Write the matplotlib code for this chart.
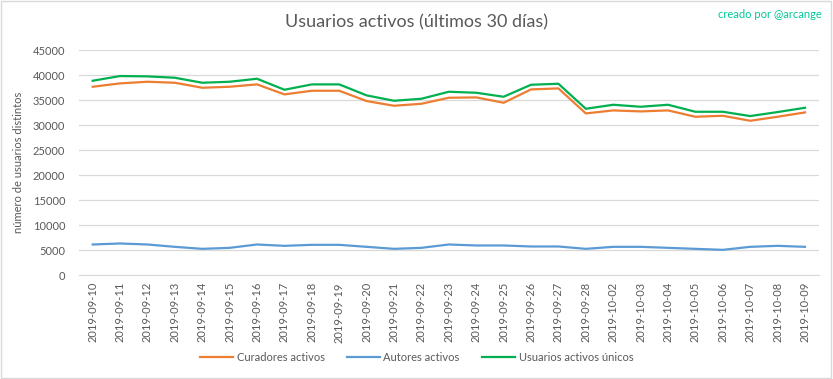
import matplotlib.pyplot as plt
from matplotlib.patches import Rectangle

plt.rcParams['font.family'] = ['Lato', 'DejaVu Sans']

fechas = ['2019-09-10', '2019-09-11', '2019-09-12', '2019-09-13', '2019-09-14',
          '2019-09-15', '2019-09-16', '2019-09-17', '2019-09-18', '2019-09-19',
          '2019-09-20', '2019-09-21', '2019-09-22', '2019-09-23', '2019-09-24',
          '2019-09-25', '2019-09-26', '2019-09-27', '2019-09-28', '2019-10-02',
          '2019-10-03', '2019-10-04', '2019-10-05', '2019-10-06', '2019-10-07',
          '2019-10-08', '2019-10-09']
curadores = [37660, 38330, 38660, 38460, 37460, 37660, 38130, 36130, 36860, 36860,
             34800, 33860, 34260, 35460, 35530, 34460, 37130, 37330, 32330, 32930,
             32730, 32930, 31660, 31860, 30860, 31660, 32530]
autores = [6130, 6330, 6130, 5660, 5260, 5460, 6130, 5860, 6060, 6060,
           5660, 5260, 5460, 6130, 5930, 5930, 5730, 5730, 5260, 5660,
           5660, 5460, 5260, 5060, 5660, 5860, 5660]
unicos = [38860, 39800, 39730, 39460, 38460, 38660, 39260, 37060, 38130, 38130,
          35930, 34860, 35260, 36660, 36460, 35660, 38060, 38260, 33260, 34060,
          33660, 34060, 32660, 32660, 31800, 32600, 33460]

fig = plt.figure(figsize=(8.33, 3.79), dpi=100)
fig.patches.append(Rectangle((0.001, 0.002), 0.997, 0.995, transform=fig.transFigure,
                             fill=False, edgecolor='#d9d9d9', linewidth=1))
ax = fig.add_axes([0.0948, 0.274, 0.888, 0.594])

x = range(len(fechas))
ax.plot(x, curadores, color='#ED7D31', linewidth=1.6, label='Curadores activos')
ax.plot(x, autores, color='#5B9BD5', linewidth=1.6, label='Autores activos')
ax.plot(x, unicos, color='#00B050', linewidth=1.6, label='Usuarios activos únicos')

ax.set_xlim(-0.5, len(fechas) - 0.5)
ax.set_ylim(0, 45000)
ax.set_yticks(range(0, 45001, 5000))
ax.yaxis.grid(True, color='#d9d9d9', linewidth=0.9)
ax.set_axisbelow(True)
for s in ['top', 'right', 'left']:
    ax.spines[s].set_visible(False)
ax.spines['bottom'].set_color('#d9d9d9')
ax.set_xticks(list(x))
ax.set_xticklabels(fechas, rotation=90, fontsize=8, color='#595959')
ax.tick_params(axis='y', labelsize=8, labelcolor='#595959', length=0, pad=10)
ax.tick_params(axis='x', length=0, pad=5)
ax.set_ylabel('número de usuarios distintos', fontsize=8, color='#595959', labelpad=6)

fig.text(0.5, 0.942, 'Usuarios activos (últimos 30 días)', ha='center', va='center',
         fontsize=13, color='#595959')
fig.text(0.987, 0.963, 'creado por @arcange', ha='right', va='center',
         fontsize=8, color='#00C896')

fig.legend(loc='center', bbox_to_anchor=(0.5, 0.058), ncol=3, frameon=False,
           fontsize=8, labelcolor='#595959', handlelength=3, handletextpad=0.3,
           columnspacing=2)

fig.savefig('out.png', dpi=100)
